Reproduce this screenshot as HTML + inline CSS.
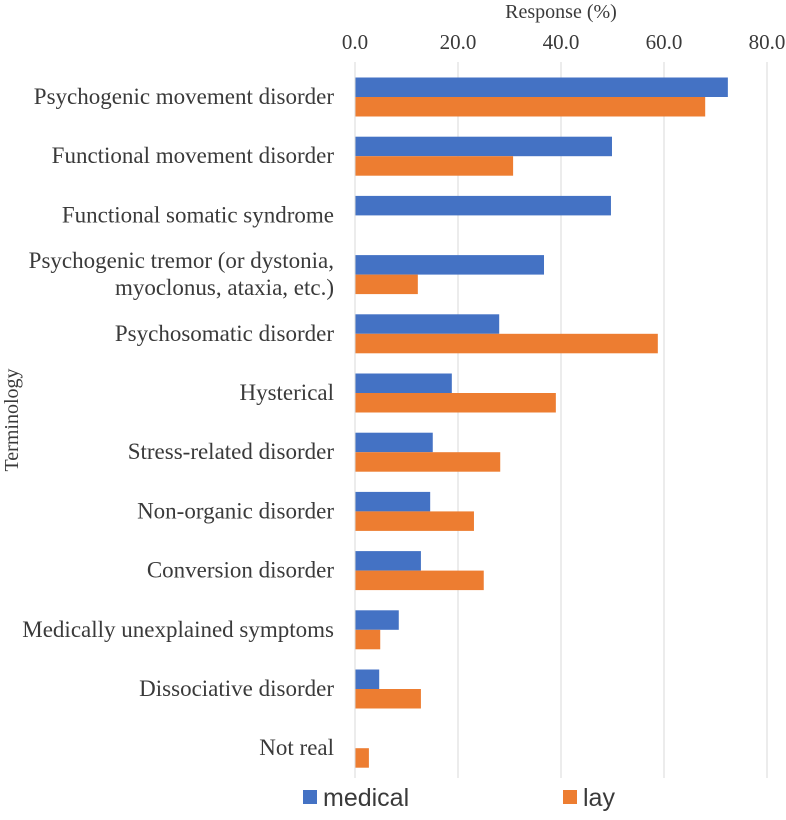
<!DOCTYPE html>
<html><head><meta charset="utf-8"><style>
body{margin:0;background:#fff;}
svg text{font-family:"Liberation Serif",serif;fill:#3a3a3a;}
</style></head><body>
<svg id="chart" width="786" height="815" xmlns="http://www.w3.org/2000/svg"></svg>
<script>
const categories=["Psychogenic movement disorder","Functional movement disorder","Functional somatic syndrome","Psychogenic tremor (or dystonia,|myoclonus, ataxia, etc.)","Psychosomatic disorder","Hysterical","Stress-related disorder","Non-organic disorder","Conversion disorder","Medically unexplained symptoms","Dissociative disorder","Not real"];
const medicalValues=[72.4,49.9,49.7,36.7,28.0,18.8,15.1,14.6,12.8,8.5,4.7,0];
const layValues=[68.0,30.7,0,12.2,58.8,39.0,28.2,23.1,25.0,4.9,12.8,2.7];
const tickValues=[0,20,40,60,80];
const tickLabels=["0.0","20.0","40.0","60.0","80.0"];
const svg=document.getElementById('chart');
const NS='http://www.w3.org/2000/svg';
const x0=355,pxPer=5.15,plotTop=67.4,band=59.2,bh=19.5;
const xs=v=>x0+v*pxPer;
function mk(t,a,txt){const e=document.createElementNS(NS,t);for(const k in a)e.setAttribute(k,a[k]);if(txt!==undefined)e.textContent=txt;svg.appendChild(e);return e;}
tickValues.forEach((v,i)=>{
 const g=mk('line',{x1:xs(v),x2:xs(v),y1:62,y2:778,stroke:'#d9d9d9','stroke-width':1});
 
 
 const t=mk('text',{x:xs(v),y:49,'text-anchor':'middle','font-size':21},tickLabels[i]);
 
 
});
categories.forEach((c,i)=>{
 const cy=plotTop+band*(i+0.5);
 const m=mk('rect',{x:x0,y:cy-bh,width:xs(medicalValues[i])-x0,height:bh,fill:'#4472c4'});
 
 
 const l=mk('rect',{x:x0,y:cy,width:xs(layValues[i])-x0,height:bh,fill:'#ed7d31'});
 
 
 const lines=c.split('|');
 lines.forEach((s,j)=>{
  const t=mk('text',{x:334,y:cy+7+(j-(lines.length-1)/2)*27,'text-anchor':'end','font-size':23},s);
  
  
 });
});
const ax=mk('line',{x1:x0,x2:x0,y1:62,y2:778,stroke:'#d9d9d9','stroke-width':1});


const xt=mk('text',{x:561,y:18,'text-anchor':'middle','font-size':20},'Response (%)');


const yt=mk('text',{x:0,y:0,'text-anchor':'middle','font-size':20,transform:'translate(18,420) rotate(-90)'},'Terminology');


const s1=mk('rect',{x:303,y:790,width:14,height:14,fill:'#4472c4'});


const t1=mk('text',{x:323,y:806,'font-size':25,style:'font-family:"Liberation Sans",sans-serif'},'medical');


const s2=mk('rect',{x:563,y:790,width:14,height:14,fill:'#ed7d31'});


const t2=mk('text',{x:583,y:806,'font-size':25,style:'font-family:"Liberation Sans",sans-serif'},'lay');


</script>
</body></html>
